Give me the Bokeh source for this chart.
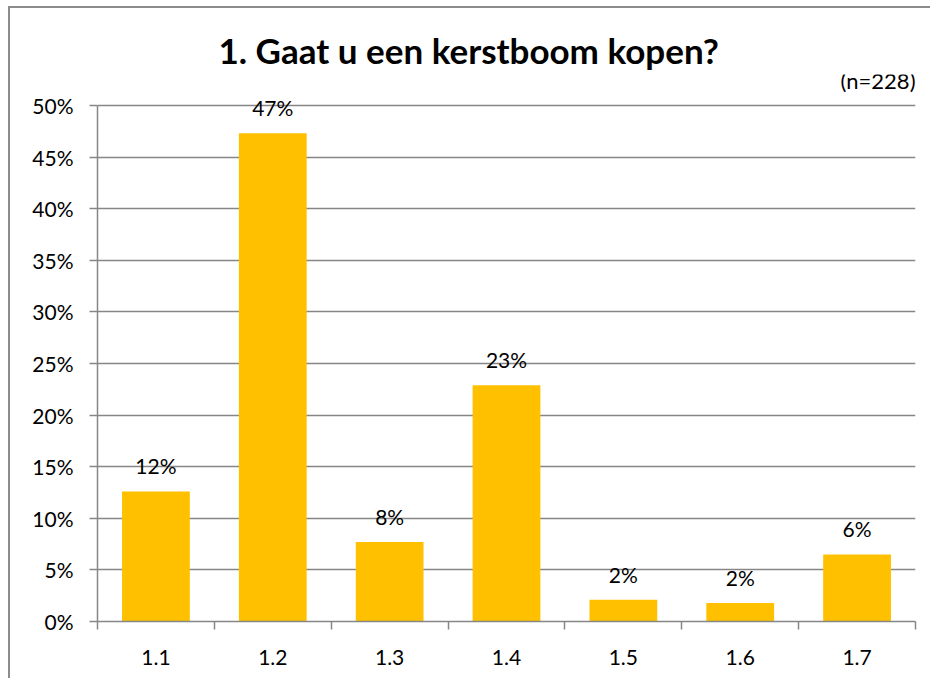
from bokeh.plotting import figure
from bokeh.models import (ColumnDataSource, Range1d, FixedTicker, NumeralTickFormatter,
                          Label, LabelSet, Title)
from bokeh.core.properties import value
from bokeh.embed import file_html
from bokeh.resources import INLINE

categories = ["1.1", "1.2", "1.3", "1.4", "1.5", "1.6", "1.7"]
values = [0.126, 0.473, 0.077, 0.229, 0.021, 0.018, 0.065]
labels = ["12%", "47%", "8%", "23%", "2%", "2%", "6%"]
title_text = "1. Gaat u een kerstboom kopen?"
n_text = "(n=228)"
y_max = 0.5

FONT = "Lato"
GRAY = "#868686"
xs = list(range(1, len(categories) + 1))
src = ColumnDataSource(dict(x=xs, top=values, lab=labels))

p = figure(width=922, height=672, output_backend="svg", toolbar_location=None,
           x_range=Range1d(0.5, len(categories) + 0.5), y_range=Range1d(0, y_max + 0.03),
           min_border_left=87, min_border_right=17, min_border_top=66, min_border_bottom=59)
p.styles = {"margin-left": "8px", "margin-top": "6px",
            "border-left": "2px solid #8c8c8c", "border-top": "2px solid #8c8c8c"}
p.outline_line_color = None
p.background_fill_color = "white"

p.vbar(x="x", top="top", width=0.58, source=src, fill_color="#FFC000", line_color=None)

p.add_layout(LabelSet(x="x", y="top", text="lab", source=src, text_align="center",
                      text_baseline="bottom", y_offset=13, text_font=value(FONT),
                      text_font_size="21px", text_color="#000000"))

# axes
p.xgrid.grid_line_color = None
p.ygrid.grid_line_color = GRAY
p.ygrid.grid_line_width = 1.5
p.yaxis.bounds = (0, y_max)
p.xaxis.bounds = (0.5, len(categories) + 0.5)
p.yaxis.ticker = FixedTicker(ticks=[i * 0.05 for i in range(11)])
p.yaxis.formatter = NumeralTickFormatter(format="0%")
p.xaxis.ticker = FixedTicker(ticks=xs, minor_ticks=[i + 0.5 for i in range(len(categories) + 1)])
p.xaxis.major_label_overrides = {x: c for x, c in zip(xs, categories)}
p.xaxis.major_tick_line_color = None
p.xaxis.minor_tick_out = 8
p.xaxis.minor_tick_in = 0
p.xaxis.minor_tick_line_color = GRAY
p.xaxis.minor_tick_line_width = 1.5
p.yaxis.minor_tick_line_color = None
p.yaxis.major_tick_out = 8
p.yaxis.major_tick_in = 0
p.yaxis.major_tick_line_color = GRAY
p.yaxis.major_tick_line_width = 1.5
for ax in (p.xaxis, p.yaxis):
    ax.axis_line_color = GRAY
    ax.axis_line_width = 1.5
    ax.major_label_text_font = FONT
    ax.major_label_text_font_size = "21px"
    ax.major_label_text_color = "#000000"
p.yaxis.major_label_standoff = 16
p.xaxis.major_label_standoff = 20

p.add_layout(Label(x=len(categories) + 0.5, y=y_max, y_offset=25, text=n_text,
                   text_font=FONT, text_font_size="22px", text_align="right",
                   text_baseline="alphabetic", text_color="#000000"))

p.add_layout(Title(text=title_text, align="left", offset=121, standoff=7,
                   text_font=FONT, text_font_style="bold", text_font_size="35px",
                   text_color="#000000"), "above")

open("out.html", "w").write(file_html(p, INLINE))
